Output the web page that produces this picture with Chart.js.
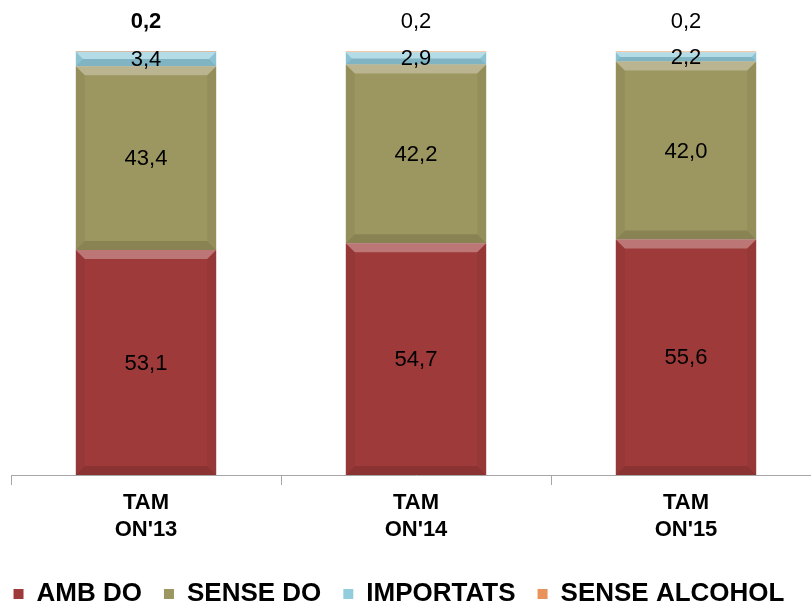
<!DOCTYPE html>
<html>
<head>
<meta charset="utf-8">
<script src="https://cdn.jsdelivr.net/npm/chart.js@4.4.1/dist/chart.umd.min.js"></script>
<style>
  html, body { margin: 0; padding: 0; background: #ffffff; overflow: hidden; }
  #wrap { position: relative; width: 811px; height: 605px; overflow: hidden; }
  #box { position: absolute; left: -23px; top: 0; width: 844px; height: 605px; }
</style>
</head>
<body>
<div id="wrap"><div id="box"><canvas id="c"></canvas></div></div>
<script>
const categories = [["TAM", "ON'13"], ["TAM", "ON'14"], ["TAM", "ON'15"]];
const seriesNames = ["AMB DO", "SENSE DO", "IMPORTATS", "SENSE ALCOHOL"];
const ambDo = [53.1, 54.7, 55.6];
const senseDo = [43.4, 42.2, 42.0];
const importats = [3.4, 2.9, 2.2];
const senseAlcohol = [0.2, 0.2, 0.2];
const seriesColors = ["#9E3B3A", "#9C9660", "#93CDDD", "#E9935A"];

const fmt = v => v.toFixed(1).replace('.', ',');

const bevelPlugin = {
  id: 'bevel',
  afterDatasetsDraw(chart) {
    const ctx = chart.ctx;
    chart.data.datasets.forEach((ds, di) => {
      const meta = chart.getDatasetMeta(di);
      meta.data.forEach(el => {
        const left = el.x - el.width / 2, right = el.x + el.width / 2;
        const top = Math.min(el.y, el.base), bot = Math.max(el.y, el.base);
        const h = bot - top;
        const b = Math.min(9, h / 2);
        if (b < 1) return;
        ctx.save();
        // top highlight
        ctx.fillStyle = 'rgba(255,255,255,0.30)';
        ctx.beginPath();
        ctx.moveTo(left, top); ctx.lineTo(right, top);
        ctx.lineTo(right - b, top + b); ctx.lineTo(left + b, top + b);
        ctx.closePath(); ctx.fill();
        // sides
        ctx.fillStyle = 'rgba(0,0,0,0.05)';
        ctx.beginPath();
        ctx.moveTo(left, top); ctx.lineTo(left + b, top + b);
        ctx.lineTo(left + b, bot - b); ctx.lineTo(left, bot);
        ctx.closePath(); ctx.fill();
        ctx.beginPath();
        ctx.moveTo(right, top); ctx.lineTo(right - b, top + b);
        ctx.lineTo(right - b, bot - b); ctx.lineTo(right, bot);
        ctx.closePath(); ctx.fill();
        // bottom shade
        ctx.fillStyle = 'rgba(0,0,0,0.12)';
        ctx.beginPath();
        ctx.moveTo(left, bot); ctx.lineTo(right, bot);
        ctx.lineTo(right - b, bot - b); ctx.lineTo(left + b, bot - b);
        ctx.closePath(); ctx.fill();
        ctx.restore();
      });
    });
  }
};

const labelPlugin = {
  id: 'valueLabels',
  afterDraw(chart) {
    const ctx = chart.ctx;
    ctx.save();
    ctx.textAlign = 'center';
    ctx.textBaseline = 'middle';
    ctx.fillStyle = '#000000';
    const n = chart.data.datasets.length;
    chart.data.datasets.forEach((ds, di) => {
      const meta = chart.getDatasetMeta(di);
      meta.data.forEach((el, i) => {
        const v = ds.data[i];
        let y;
        if (di === n - 1) {
          y = Math.min(el.y, el.base) - 29;
          ctx.font = (i === 0 ? 'bold ' : '') + '22px "Liberation Sans", Arial, sans-serif';
        } else {
          y = (el.y + el.base) / 2 + 1;
          ctx.font = '22px "Liberation Sans", Arial, sans-serif';
        }
        ctx.fillText(fmt(v), el.x, y);
      });
    });
    ctx.restore();
  }
};

const seriesData = [ambDo, senseDo, importats, senseAlcohol];

new Chart(document.getElementById('c'), {
  type: 'bar',
  data: {
    labels: categories,
    datasets: seriesNames.map((name, k) => ({
      label: name,
      data: seriesData[k],
      backgroundColor: seriesColors[k],
      borderWidth: 0,
      barPercentage: 0.52,
      categoryPercentage: 1.0
    }))
  },
  options: {
    responsive: true,
    maintainAspectRatio: false,
    animation: false,
    layout: { padding: { top: 51, left: 0, right: 0, bottom: -12 } },
    plugins: {
      tooltip: { enabled: false },
      legend: {
        position: 'bottom',
        labels: {
          boxWidth: 10,
          boxHeight: 10,
          padding: 22,
          color: '#000000',
          font: { family: '"Liberation Sans", Arial, sans-serif', size: 26, weight: 'bold' }
        }
      }
    },
    scales: {
      x: {
        stacked: true,
        offset: true,
        grid: { display: true, offset: true, drawOnChartArea: false, drawTicks: true, tickLength: 10, color: '#A6A6A6' },
        border: { display: true, color: '#A6A6A6', width: 1 },
        ticks: {
          color: '#000000',
          padding: 5,
          maxRotation: 0,
          font: { family: '"Liberation Sans", Arial, sans-serif', size: 22, weight: 'bold' }
        },
        afterFit(scale) { scale.height = 84; }
      },
      y: {
        stacked: true,
        min: 0,
        max: 100.1,
        grid: { display: false },
        border: { display: false },
        ticks: { display: false },
        afterFit(scale) { scale.width = 34; }
      }
    }
  },
  plugins: [bevelPlugin, labelPlugin]
});
</script>
</body>
</html>
